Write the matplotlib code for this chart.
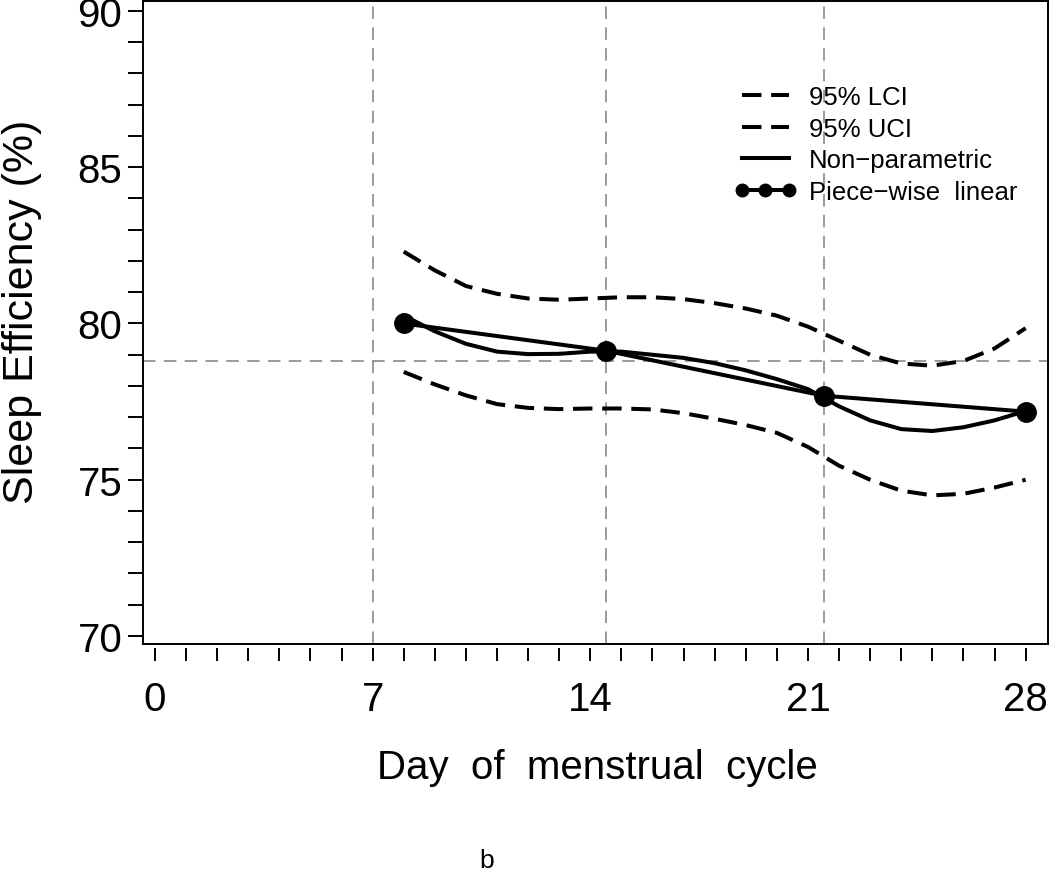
import matplotlib
matplotlib.use('Agg')
import matplotlib.pyplot as plt
from matplotlib.lines import Line2D

# ---- data ----
days = [8, 9, 10, 11, 12, 13, 14, 15, 16, 17, 18, 19, 20, 21, 22, 23, 24, 25, 26, 27, 28]
uci = [82.30, 81.70, 81.20, 80.95, 80.80, 80.76, 80.80, 80.84, 80.84, 80.78, 80.65,
       80.48, 80.25, 79.90, 79.45, 79.00, 78.72, 78.65, 78.80, 79.20, 79.85]
lci = [78.45, 78.05, 77.70, 77.42, 77.30, 77.26, 77.28, 77.28, 77.25, 77.13, 76.95,
       76.75, 76.50, 76.05, 75.45, 75.00, 74.65, 74.50, 74.55, 74.75, 75.00]
nonpar = [80.25, 79.75, 79.35, 79.10, 79.02, 79.03, 79.10, 79.10, 79.00, 78.90, 78.73,
          78.50, 78.22, 77.90, 77.35, 76.90, 76.62, 76.56, 76.68, 76.90, 77.20]
pw_days = [8, 14.5, 21.5, 28]
pw_vals = [80.0, 79.13, 77.69, 77.18]
ref_days = [7, 14.5, 21.5]
ref_value = 78.8
x_major = [0, 7, 14, 21, 28]
x_minor = list(range(0, 29))
y_major = [70, 75, 80, 85, 90]
y_minor = list(range(70, 91))
legend_labels = ['95% LCI', '95% UCI', 'Non\u2212parametric', 'Piece\u2212wise  linear']

plt.rcParams['font.family'] = ['Liberation Sans', 'DejaVu Sans']
plt.rcParams['lines.scale_dashes'] = False

W, H = 1050, 878
fig = plt.figure(figsize=(W / 100, H / 100), dpi=100)
ax = fig.add_axes([143 / W, 1 - 645 / H, 905 / W, 643 / H])
ax.set_xlim(-0.386, 28.72)
ax.set_ylim(69.744, 90.32)

ref_kw = dict(color='#808080', lw=1.1, dashes=(9, 6), zorder=1)
for d in ref_days:
    ax.axvline(d, **ref_kw)
ax.axhline(ref_value, **ref_kw)

ci_kw = dict(color='black', lw=2.9, dashes=(14, 7), dash_capstyle='butt', zorder=3)
ax.plot(days, lci, **ci_kw)
ax.plot(days, uci, **ci_kw)
ax.plot(days, nonpar, color='black', lw=2.9, zorder=3, solid_joinstyle='round')
ax.plot(pw_days, pw_vals, color='black', lw=2.9, marker='o', ms=14, zorder=4)

# axes styling
for s in ['top', 'right', 'left']:
    ax.spines[s].set_linewidth(1.4)
ax.spines['bottom'].set_position(('outward', 3))
ax.spines['bottom'].set_visible(False)
ax.plot([0, 1], [0, 0], transform=ax.transAxes, color='black', lw=1.4,
        clip_on=False, solid_capstyle='projecting')

ax.set_xticks(x_major)
ax.set_xticks(x_minor, minor=True)
ax.set_xticklabels([str(v) for v in x_major])
ax.set_yticks(y_major)
ax.set_yticks(y_minor, minor=True)
ax.set_yticklabels([str(v) for v in y_major])
ax.tick_params(axis='x', which='both', direction='out', length=9, width=1.4, pad=14, labelsize=29)
ax.tick_params(axis='y', which='both', direction='out', length=10.8, width=1.4, pad=4, labelsize=29)

fig.text(22 / W, 1 - 312 / H, 'Sleep Efficiency (%)', rotation=90, ha='center', va='center', fontsize=31)
fig.text(597 / W, 1 - 779 / H, 'Day  of  menstrual  cycle', ha='center', va='baseline', fontsize=29)
fig.text(487 / W, 1 - 868 / H, 'b', ha='center', va='baseline', fontsize=19)

handles = [
    Line2D([], [], color='black', lw=2.9, dashes=(14, 7), dash_capstyle='butt'),
    Line2D([], [], color='black', lw=2.9, dashes=(14, 7), dash_capstyle='butt'),
    Line2D([], [], color='black', lw=2.9),
    Line2D([], [], color='black', lw=2.9, marker='o', ms=9),
]
ax.legend(handles, legend_labels, loc='upper left', bbox_to_anchor=(734 / W, 1 - 86 / H),
          bbox_transform=fig.transFigure, frameon=False, fontsize=18.5, handlelength=2.45,
          handletextpad=0.45, labelspacing=0.3, borderpad=0, borderaxespad=0, numpoints=3)

fig.savefig('out.png', dpi=100)
